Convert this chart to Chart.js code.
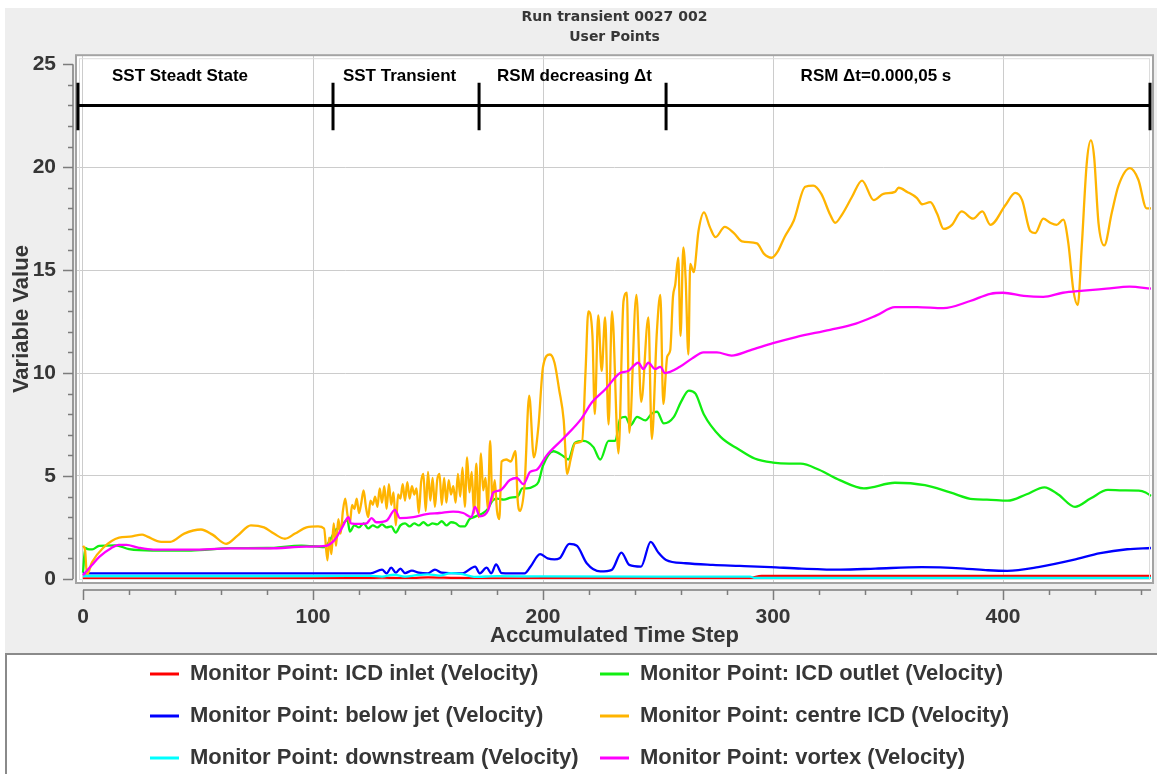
<!DOCTYPE html>
<html>
<head>
<meta charset="utf-8">
<title>Run transient 0027 002</title>
<script src="https://cdn.jsdelivr.net/npm/chart.js@4.4.1/dist/chart.umd.min.js"></script>
<style>
  html, body { margin: 0; padding: 0; background: #fff; }
  canvas { display: block; }
</style>
</head>
<body>
<canvas id="monitorChart" width="1157" height="774"></canvas>
<script>
const xTicks = [0, 100, 200, 300, 400];
const yTicks = [0, 5, 10, 15, 20, 25];

const phaseEdges = [-2.2, 108.7, 172.2, 253.5, 463.9];
const phaseNames = ['SST Steadt State', 'SST Transient', 'RSM decreasing \u0394t', 'RSM \u0394t=0.000,05 s'];
const phaseNameStart = [12.6, 113, 180, 312];

const seriesNames = [
    'Monitor Point: ICD inlet (Velocity)',
    'Monitor Point: ICD outlet (Velocity)',
    'Monitor Point: below jet (Velocity)',
    'Monitor Point: centre ICD (Velocity)',
    'Monitor Point: downstream (Velocity)',
    'Monitor Point: vortex (Velocity)',
];
const seriesColors = ['#ff0000', '#11ee11', '#0000ff', '#ffb400', '#00ffff', '#ff00ff'];

// [time step, value]
const inletPts = [[0, 0.02], [60, 0.02], [120, 0.03], [130, 0.06], [140, 0.03], [150, 0.07], [160, 0.05],
    [170, 0.03], [180, 0.02], [200, 0.03], [225, 0.03], [240, 0.03], [290, 0.04], [295, 0.15], [464.3, 0.15]];

const outletPts = [[0, 0.3], [1, 1.5], [2, 1.45], [4, 1.43], [7, 1.6], [14, 1.63], [20, 1.45], [30, 1.38],
    [47, 1.38], [64, 1.49], [80, 1.5], [95, 1.62], [105, 1.55], [107, 1.8], [110, 2.4], [112, 2.5], [114, 2.8],
    [115, 2.85], [116, 2.3], [118, 2.6], [120, 2.5], [122, 2.7], [124, 2.45], [126, 2.6], [128, 2.5], [130, 2.65],
    [132, 2.5], [134, 2.55], [136, 2.25], [138, 2.6], [140, 2.7], [142, 2.55], [144, 2.7], [146, 2.6], [148, 2.75],
    [150, 2.6], [152, 2.7], [154, 2.65], [156, 2.8], [158, 2.6], [160, 2.75], [162, 2.7], [164, 2.55], [166, 2.55],
    [168, 2.9], [170, 3.0], [172, 3.1], [174, 3.2], [176, 3.4], [178, 3.8], [180, 3.9], [183, 3.85], [186, 3.95],
    [189, 4.0], [191, 4.4], [193, 4.4], [196, 4.5], [198, 4.7], [200, 5.5], [204.5, 6.2], [209, 5.95], [211, 5.8],
    [213.8, 6.6], [217.6, 6.7], [221.9, 6.4], [224.9, 5.8], [228.5, 6.7], [231.4, 6.7], [233.6, 7.8], [235.8, 7.87],
    [238, 7.46], [240.9, 7.87], [244.5, 7.7], [247.4, 8.04], [249.6, 8.12], [252.5, 7.55], [256.9, 7.87], [260, 8.6],
    [263.4, 9.15], [266.3, 9.0], [269.9, 8.0], [277.2, 6.9], [285, 6.3], [292, 5.85], [300, 5.65], [307, 5.6],
    [312, 5.6], [320, 5.3], [329, 4.8], [339.5, 4.4], [353, 4.67], [366, 4.55], [377, 4.2], [387, 3.87], [393, 3.85],
    [402, 3.8], [410, 4.1], [418, 4.45], [424, 4.1], [431.3, 3.5], [438, 3.9], [445.6, 4.32], [452, 4.3], [459, 4.29],
    [462, 4.2], [464.3, 4.03]];

const belowJetPts = [[0, 0.27], [125, 0.27], [130, 0.45], [132, 0.27], [134, 0.55], [136, 0.3], [138, 0.5], [140, 0.28],
    [143, 0.4], [146, 0.3], [150, 0.27], [153, 0.45], [156, 0.3], [160, 0.28], [165, 0.27], [170.5, 0.6], [172.5, 0.27],
    [175.5, 0.55], [177.5, 0.27], [179.6, 0.7], [182, 0.28], [186, 0.27], [192, 0.27], [194.6, 0.6], [198.7, 1.2],
    [202, 1.0], [205, 0.95], [207.2, 1.0], [211.4, 1.7], [214.8, 1.6], [219, 0.76], [224.9, 0.36], [229.9, 0.44],
    [234.1, 1.28], [237.5, 0.68], [242.6, 0.6], [246.8, 1.8], [250, 1.3], [253.5, 0.92], [262, 0.76], [273.8, 0.68],
    [285.6, 0.63], [299, 0.57], [312.5, 0.5], [329.4, 0.45], [344.5, 0.5], [364.7, 0.57], [383.3, 0.5], [393.4, 0.42],
    [401.8, 0.39], [415.3, 0.57], [430.5, 0.92], [442.3, 1.25], [454, 1.44], [464.3, 1.5]];

const centrePts = [[0, 1.6], [0.9, 1.4], [1.7, 0.2], [3.9, 0.8], [8.7, 1.5], [15.7, 2.0], [20.4, 2.05], [25.7, 2.15],
    [28, 2.05], [34, 1.8], [38, 1.8], [44, 2.2], [51.3, 2.4], [56.3, 2.15], [62.2, 1.7], [67.2, 2.1], [73, 2.6],
    [78.7, 2.5], [83, 2.2], [87.8, 1.95], [92.2, 2.2], [97.2, 2.5], [102.2, 2.55], [104.8, 2.45], [106.3, 0.9],
    [107, 2.0], [108, 1.2], [109, 2.7], [110, 1.6], [111, 2.9], [112, 2.2], [113, 3.3], [114, 3.9], [115, 3.1],
    [116, 2.7], [117, 3.6], [118, 3.4], [119, 3.9], [120, 3.2], [121, 3.7], [122, 4.3], [123, 3.5], [124, 3.0],
    [125, 3.8], [126, 3.6], [127, 4.0], [128, 3.5], [129, 4.4], [130, 3.7], [131, 4.5], [132, 3.4], [133, 4.6],
    [134, 3.6], [135, 4.2], [136, 2.6], [137, 4.1], [138, 3.9], [139, 4.6], [140, 3.8], [141, 4.7], [142, 3.9],
    [143, 4.5], [144, 4.1], [145, 4.4], [146, 3.2], [147, 4.7], [148, 5.1], [149, 3.3], [150, 5.2], [151, 3.8],
    [152, 4.9], [153, 3.5], [154, 4.8], [155, 5.1], [156, 3.6], [157, 4.9], [158, 3.7], [159, 4.8], [160, 4.1],
    [161, 4.5], [162, 3.7], [163, 5.1], [164, 4.0], [165, 5.4], [166, 3.5], [167, 5.9], [168, 4.2], [169, 5.2],
    [170, 3.2], [171, 5.6], [172, 3.0], [173, 6.1], [174, 4.3], [175, 4.9], [176, 3.4], [177, 6.7], [178, 3.8],
    [179, 4.8], [180, 3.3], [181, 2.9], [182, 5.7], [184, 5.8], [186, 5.7], [188, 6.2], [189, 3.8], [190, 3.3],
    [192, 4.6], [194, 8.9], [196, 5.9], [198, 7.4], [200, 10.3], [203, 10.9], [205, 10.5], [207, 9.2], [209, 7.7],
    [210.5, 5.1], [212, 5.8], [214, 6.6], [217, 6.7], [218.5, 10.1], [219.7, 13.0], [221.5, 11.8], [222.5, 8.0],
    [224, 12.8], [225.5, 10.1], [227, 12.7], [228.5, 7.5], [230, 13.0], [232.8, 6.1], [235, 13.5], [236.5, 13.9],
    [237.5, 7.1], [240.6, 13.8], [242.7, 8.6], [245.8, 12.7], [247.3, 6.8], [249.5, 12.0], [251, 13.8], [252.3, 8.5],
    [254, 10.8], [255.3, 11.1], [256.5, 13.7], [257.5, 14.3], [258.8, 15.6], [259.8, 11.8], [261, 16.1], [262, 14.6],
    [263.2, 10.9], [264, 15.3], [265.5, 14.9], [267.6, 16.9], [270, 17.8], [272.5, 17.1], [275, 16.6], [279, 17.1],
    [283, 16.8], [286.5, 16.4], [293, 16.3], [296, 15.8], [299.4, 15.6], [302, 15.9], [305, 16.6], [309, 17.4],
    [314, 19.05], [317.5, 19.1], [321, 18.7], [324.8, 17.7], [327, 17.3], [330, 17.7], [334.3, 18.55], [338.7, 19.35],
    [343.8, 18.4], [348, 18.7], [353, 18.8], [354.6, 19.0], [358.3, 18.8], [362.6, 18.5], [364.8, 18.2], [368.4, 18.3],
    [371.3, 17.75], [374.2, 17.0], [377.8, 17.2], [382, 17.85], [387, 17.5], [391, 17.85], [394.5, 17.2], [401, 18.15],
    [405.3, 18.75], [408.3, 18.4], [411.8, 16.9], [414, 16.8], [417.5, 17.5], [420.5, 17.3], [423.3, 17.2],
    [426.2, 17.45], [428.4, 16.3], [430.6, 14.0], [432.5, 13.3], [434.2, 16.1], [436.4, 20.2], [438.2, 21.3],
    [439.6, 20.5], [441.5, 17.3], [444, 16.2], [447.3, 17.8], [450.2, 19.1], [455.2, 19.95], [458.8, 19.4],
    [462.4, 18.0], [464.3, 18.0]];

const downstreamPts = [[0, 0.14], [100, 0.14], [125, 0.15], [130, 0.11], [135, 0.2], [140, 0.11], [145, 0.18],
    [150, 0.22], [155, 0.16], [160, 0.28], [165, 0.23], [170, 0.1], [180, 0.13], [200, 0.12], [250, 0.11],
    [290, 0.11], [292, 0.05], [464.3, 0.05]];

const vortexPts = [[0, 0.18], [3.9, 0.67], [7.2, 1.08], [12.2, 1.49], [15.6, 1.65], [18.9, 1.65], [23.9, 1.52],
    [30.6, 1.42], [47, 1.42], [64, 1.48], [80.5, 1.48], [97.2, 1.57], [105.5, 1.6], [108.8, 1.82], [110.5, 2.07],
    [113, 2.56], [115.4, 3.0], [116.5, 2.7], [120, 2.67], [123.3, 2.7], [125.5, 2.95], [127.5, 2.75], [132, 2.83],
    [135.6, 3.35], [137.8, 2.95], [143.6, 3.0], [149.4, 3.15], [155, 3.2], [160.9, 3.27], [165.3, 3.2], [168.9, 3.0],
    [170.4, 3.5], [172.6, 3.04], [176.2, 3.35], [178.4, 4.2], [181.3, 4.3], [185.6, 4.8], [188.6, 4.9], [191.5, 4.6],
    [194.4, 5.2], [197.3, 5.3], [201.6, 6.0], [208.9, 6.83], [216.8, 7.8], [221.2, 8.57], [227, 9.2], [233.5, 10.0],
    [237, 10.1], [241.4, 10.5], [243.6, 10.2], [245.8, 10.5], [248.7, 10.2], [251, 10.3], [253, 10.0], [259.5, 10.3],
    [264.7, 10.7], [269.8, 11.0], [275.6, 11.0], [282, 10.85], [290, 11.1], [300, 11.45], [310, 11.75], [324.8, 12.1],
    [336, 12.4], [345, 12.8], [353, 13.2], [362.6, 13.2], [374, 13.15], [385.7, 13.5], [394.5, 13.85], [400, 13.9],
    [409, 13.75], [417.5, 13.7], [426, 13.9], [435, 14.0], [445, 14.1], [455, 14.2], [464.3, 14.1]];

const seriesPoints = [inletPts, outletPts, belowJetPts, centrePts, downstreamPts, vortexPts];

const FONT = "'Liberation Sans', Arial, sans-serif";
const TEXT = '#363636';

const framePlugin = {
    id: 'frame',
    beforeDraw(chart) {
        const { ctx, chartArea: a, width, height } = chart;
        ctx.save();
        ctx.fillStyle = '#ffffff';
        ctx.fillRect(0, 0, width, height);
        ctx.fillStyle = '#eeeeee';
        ctx.fillRect(5, 8, width - 5, 645);
        ctx.fillStyle = '#ffffff';
        ctx.fillRect(a.left, a.top, a.right - a.left, a.bottom - a.top);
        ctx.restore();
    },
    afterDraw(chart) {
        const { ctx, chartArea: a, width, height } = chart;
        const xs = chart.scales.x;
        const ys = chart.scales.y;
        ctx.save();

        // plot outline
        ctx.strokeStyle = '#a3a3a3';
        ctx.lineWidth = 2;
        ctx.strokeRect(a.left, a.top, a.right - a.left, a.bottom - a.top);
        ctx.strokeStyle = '#dcdcdc';
        ctx.lineWidth = 1;
        ctx.strokeRect(a.left + 3.5, a.top + 3.5, a.right - a.left - 7, a.bottom - a.top - 7);

        // axis lines with major / minor tick marks
        ctx.strokeStyle = '#7c7c7c';
        ctx.lineWidth = 1.5;
        const ax = a.left - 3;
        ctx.beginPath();
        ctx.moveTo(ax, ys.getPixelForValue(yTicks[0]));
        ctx.lineTo(ax, ys.getPixelForValue(yTicks[yTicks.length - 1]));
        for (let v = yTicks[0]; v <= yTicks[yTicks.length - 1]; v += 1) {
            const py = Math.round(ys.getPixelForValue(v)) + 0.5;
            const len = yTicks.includes(v) ? 10 : 5;
            ctx.moveTo(ax - len, py);
            ctx.lineTo(ax, py);
        }
        const ay = a.bottom + 7;
        ctx.moveTo(xs.getPixelForValue(0), ay);
        ctx.lineTo(a.right - 2, ay);
        for (let v = 0; v <= 460; v += 20) {
            const px = Math.round(xs.getPixelForValue(v)) + 0.5;
            const len = xTicks.includes(v) ? 10 : 5;
            ctx.moveTo(px, ay);
            ctx.lineTo(px, ay + len);
        }
        ctx.stroke();

        // phase bar
        ctx.strokeStyle = '#000';
        ctx.lineWidth = 3;
        ctx.beginPath();
        const barY = ys.getPixelForValue(23.0);
        ctx.moveTo(xs.getPixelForValue(phaseEdges[0]), barY);
        ctx.lineTo(xs.getPixelForValue(phaseEdges[phaseEdges.length - 1]), barY);
        phaseEdges.forEach(e => {
            const px = xs.getPixelForValue(e);
            ctx.moveTo(px, ys.getPixelForValue(24.1));
            ctx.lineTo(px, ys.getPixelForValue(21.8));
        });
        ctx.stroke();
        ctx.fillStyle = '#000';
        ctx.font = `bold 17px ${FONT}`;
        ctx.textAlign = 'left';
        ctx.textBaseline = 'middle';
        phaseNames.forEach((name, i) => {
            ctx.fillText(name, xs.getPixelForValue(phaseNameStart[i]), ys.getPixelForValue(24.4));
        });

        // legend box
        ctx.fillStyle = '#ffffff';
        ctx.fillRect(5, 654, width - 5, height - 654);
        ctx.strokeStyle = '#8a8a8a';
        ctx.lineWidth = 2;
        ctx.beginPath();
        ctx.moveTo(5, 654);
        ctx.lineTo(width, 654);
        ctx.moveTo(6, 654);
        ctx.lineTo(6, height);
        ctx.stroke();

        ctx.font = `bold 22px ${FONT}`;
        ctx.textBaseline = 'middle';
        chart.data.datasets.forEach((ds, i) => {
            const col = i % 2;
            const row = Math.floor(i / 2);
            const lx = col === 0 ? 150 : 600;
            const ly = 674 + row * 42;
            ctx.strokeStyle = ds.borderColor;
            ctx.lineWidth = 3;
            ctx.beginPath();
            ctx.moveTo(lx, ly);
            ctx.lineTo(lx + 29, ly);
            ctx.stroke();
            ctx.fillStyle = TEXT;
            ctx.fillText(ds.label, lx + 40, ly);
        });
        ctx.restore();
    },
};

new Chart(document.getElementById('monitorChart'), {
    type: 'line',
    data: {
        datasets: seriesPoints.map((pts, i) => ({
            label: seriesNames[i],
            data: pts.map(([x, y]) => ({ x, y })),
            borderColor: seriesColors[i],
            backgroundColor: seriesColors[i],
            borderWidth: 2.3,
            pointRadius: 0,
            cubicInterpolationMode: 'monotone',
            order: seriesPoints.length - i,
        })),
    },
    options: {
        responsive: false,
        animation: false,
        devicePixelRatio: 1,
        layout: { padding: { left: 5, right: 4, top: 8, bottom: 119 } },
        plugins: {
            legend: { display: false },
            tooltip: { enabled: false },
            title: {
                display: true,
                fullSize: false,
                text: ['Run transient 0027 002', 'User Points'],
                color: TEXT,
                font: { family: "'DejaVu Sans', sans-serif", size: 14, weight: 'bold', lineHeight: 1.4 },
                padding: { top: 0, bottom: 8 },
            },
        },
        scales: {
            x: {
                type: 'linear',
                min: -3.04,
                max: 465.2,
                afterBuildTicks: s => { s.ticks = xTicks.map(v => ({ value: v })); },
                afterFit: s => { s.height = 72; },
                grid: { color: '#cccccc', lineWidth: 1, drawTicks: false },
                border: { display: false },
                ticks: {
                    autoSkip: false,
                    maxRotation: 0,
                    padding: 22,
                    color: TEXT,
                    font: { family: FONT, size: 21, weight: 'bold' },
                },
                title: {
                    display: true,
                    text: 'Accumulated Time Step',
                    color: TEXT,
                    font: { family: FONT, size: 22, weight: 'bold' },
                    padding: { top: 0, bottom: 6 },
                },
            },
            y: {
                min: -0.2,
                max: 25.44,
                afterBuildTicks: s => { s.ticks = yTicks.map(v => ({ value: v })); },
                afterFit: s => { s.width = 71; },
                grid: {
                    color: c => (c.tick && c.tick.value > 0 && c.tick.value < 25 ? '#cccccc' : 'rgba(0,0,0,0)'),
                    lineWidth: 1,
                    drawTicks: false,
                },
                border: { display: false },
                ticks: {
                    padding: 20,
                    color: TEXT,
                    font: { family: FONT, size: 21, weight: 'bold' },
                },
                title: {
                    display: true,
                    text: 'Variable Value',
                    color: TEXT,
                    font: { family: FONT, size: 22, weight: 'bold' },
                    padding: { top: 4, bottom: 0 },
                },
            },
        },
    },
    plugins: [framePlugin],
});
</script>
</body>
</html>
